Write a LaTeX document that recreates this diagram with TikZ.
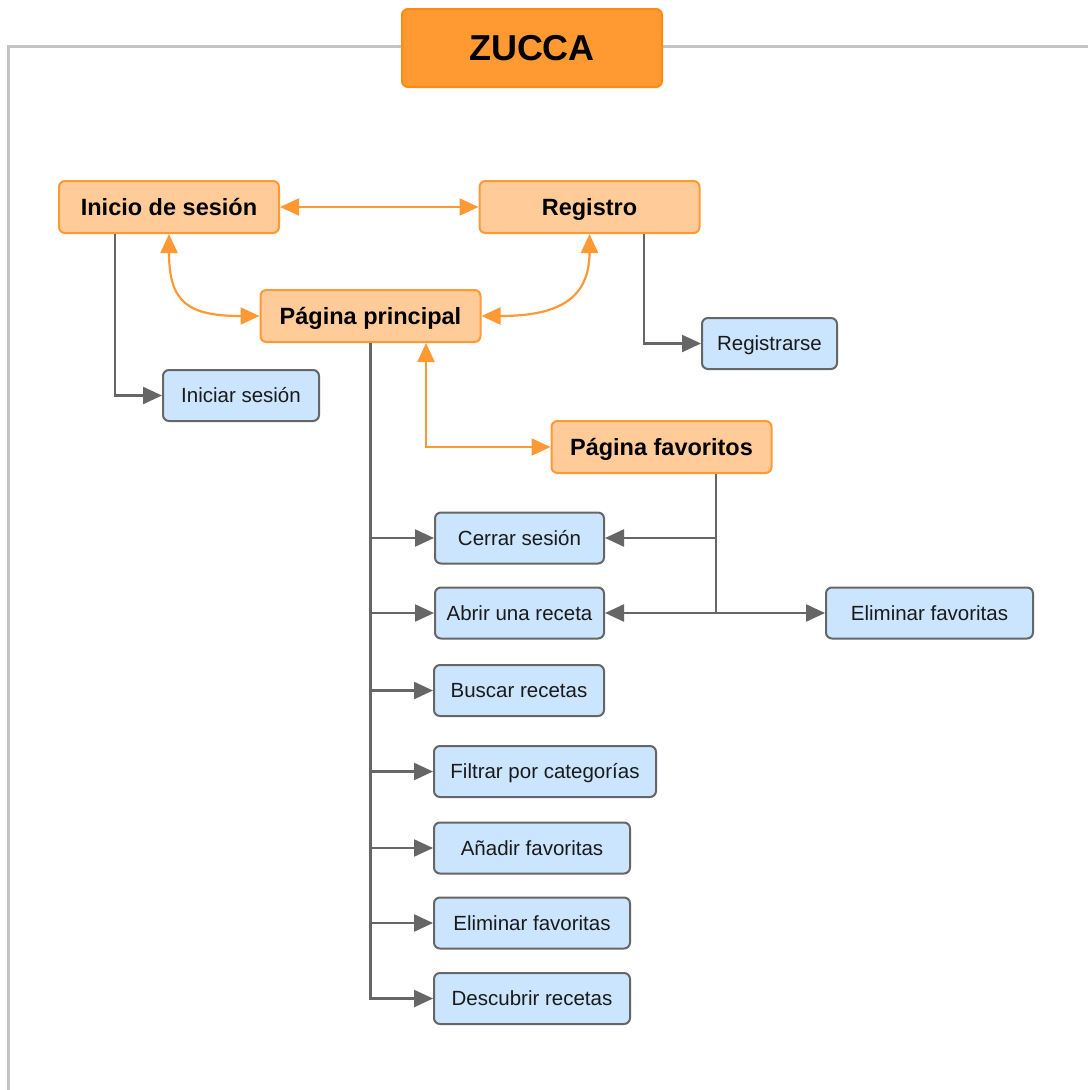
\documentclass[tikz,border=0pt]{standalone}
\usepackage{fontspec}
\setmainfont{Liberation Sans}
\usetikzlibrary{arrows.meta}

\definecolor{frameline}{HTML}{C4C4C4}
\definecolor{titlefill}{HTML}{FF9A33}
\definecolor{titleline}{HTML}{FF8A10}
\definecolor{pagefill}{HTML}{FFCC99}
\definecolor{pageline}{HTML}{FF9933}
\definecolor{leaffill}{HTML}{CCE5FF}
\definecolor{leafline}{HTML}{666666}
\definecolor{linkgray}{HTML}{666666}
\definecolor{leaftext}{HTML}{1A1A1A}

\tikzset{
  box/.style={rounded corners=6pt, inner sep=0pt, line width=2pt,
              text depth=0pt, align=center},
  titlebox/.style={box, draw=titleline, fill=titlefill,
              minimum width=260pt, minimum height=78pt, text height=25.8pt,
              font=\fontsize{36}{40}\selectfont\bfseries, text=black},
  pagebox/.style={box, draw=pageline, fill=pagefill,
              minimum width=220pt, minimum height=52pt, text height=16.8pt,
              font=\fontsize{23.5}{28}\selectfont\bfseries, text=black},
  leafbox/.style={box, draw=leafline, fill=leaffill, minimum height=51pt,
              text height=14.6pt,
              font=\fontsize{20.5}{24}\selectfont, text=leaftext},
  tip/.tip={Triangle[length=19pt,width=17pt]},
  link/.style={draw=linkgray, line width=2.3pt, -tip},
  trunk/.style={draw=linkgray, line width=2.3pt},
  flow/.style={draw=pageline, line width=2.2pt, tip-tip},
}

\begin{document}
\begin{tikzpicture}[x=1pt,y=-1pt]
  \useasboundingbox[fill=white] (0,0) rectangle (1088,1090);

  % outer frame
  \draw[frameline, line width=3pt] (8,1090) -- (8,46) -- (1088,46);

  % title
  \node[titlebox] (title) at (532,48) {ZUCCA};

  % main pages
  \node[pagebox] (inicio)    at (169,207)   {Inicio de sesión};
  \node[pagebox] (registro)  at (589.5,207) {Registro};
  \node[pagebox] (principal) at (370.5,316) {Página principal};
  \node[pagebox] (favoritos) at (661.5,447) {Página favoritos};

  % actions
  \node[leafbox, minimum width=156pt] (iniciar)     at (241,395.5)   {Iniciar sesión};
  \node[leafbox, minimum width=135pt] (registrarse) at (769.5,343.5) {Registrarse};
  \node[leafbox, minimum width=169pt] (cerrar)      at (519.5,538)   {Cerrar sesión};
  \node[leafbox, minimum width=169pt] (abrir)       at (519.5,613)   {Abrir una receta};
  \node[leafbox, minimum width=207pt] (elimfavR)    at (929.5,613)   {Eliminar favoritas};
  \node[leafbox, minimum width=170pt] (buscar)      at (519,690.5)   {Buscar recetas};
  \node[leafbox, minimum width=222pt] (filtrar)     at (545,771.5)   {Filtrar por categorías};
  \node[leafbox, minimum width=196pt] (anadir)      at (532,848)     {Añadir favoritas};
  \node[leafbox, minimum width=196pt] (elimfav)     at (532,923)     {Eliminar favoritas};
  \node[leafbox, minimum width=196pt] (descubrir)   at (532,998.5)   {Descubrir recetas};

  % navigation between pages
  \draw[flow] (inicio.east) -- (registro.west);
  \draw[flow] (inicio.south) .. controls +(0,68) and +(-72,0) .. (principal.west);
  \draw[flow] (registro.south) .. controls +(0,68) and +(72,0) .. (principal.east);
  \draw[flow] ([xshift=55.5pt]principal.south) |- (favoritos.west);

  % login and sign-up actions
  \draw[link] ([xshift=-54pt]inicio.south) |- (iniciar.west);
  \draw[link] ([xshift=54.5pt]registro.south) |- (registrarse.west);

  % main page actions
  \draw[link] (principal.south) |- (descubrir.west);
  \foreach \n in {cerrar, abrir, buscar, filtrar, anadir, elimfav}
    \draw[link] (principal.south |- \n.west) -- (\n.west);

  % favourites page actions
  \coordinate (fs) at ([xshift=54.5pt]favoritos.south);
  \draw[trunk] (fs) -- (fs |- abrir.east);
  \draw[link] (fs |- cerrar.east) -- (cerrar.east);
  \draw[link] (fs |- abrir.east) -- (abrir.east);
  \draw[link] (fs |- elimfavR.west) -- (elimfavR.west);
\end{tikzpicture}
\end{document}
